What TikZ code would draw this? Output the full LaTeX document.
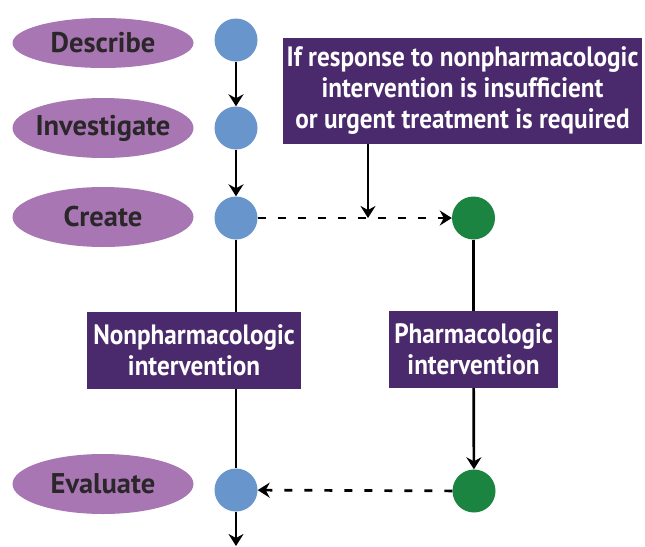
\documentclass[tikz,border=0pt]{standalone}
\usepackage{fontspec}
\setmainfont{PT Sans}
\newfontfamily\stagefont{PT Sans Bold}
\newfontfamily\condbold{PT Sans Bold}[FakeStretch=0.9]
\usetikzlibrary{shapes.geometric,arrows.meta}
\definecolor{stepfill}{HTML}{A877B3}
\definecolor{dotblue}{HTML}{6895CC}
\definecolor{dotgreen}{HTML}{1B8441}
\definecolor{boxpurple}{HTML}{4A2A6C}
\definecolor{inktext}{HTML}{2A2629}
\tikzset{
  stage/.style={ellipse, fill=stepfill, minimum width=181pt, minimum height=60pt,
    inner xsep=-20pt, inner ysep=0pt, text=inktext,
    font=\stagefont\fontsize{28.5}{30}\selectfont},
  bluedot/.style={circle, fill=dotblue, minimum size=43pt, inner sep=0pt},
  greendot/.style={circle, fill=dotgreen, minimum size=43pt, inner sep=0pt},
  infobox/.style={rectangle, fill=boxpurple, text=white, align=center, inner sep=0pt,
    font=\condbold\fontsize{28}{31}\selectfont},
  flow/.style={line width=2.7pt, -{Stealth[length=12pt,width=15pt,inset=4pt]}},
  plainflow/.style={line width=2.7pt},
  dashflow/.style={line width=2.7pt, dash pattern=on 8pt off 12pt,
    -{Stealth[length=12pt,width=15pt,inset=4pt]}}
}
\begin{document}
\begin{tikzpicture}[x=1pt,y=-1pt]
\useasboundingbox (0,0) rectangle (645,546);

% stage labels
\node[stage, minimum height=50pt] (describe) at (103,43) {Describe};
\node[stage] (investigate) at (103,128) {Investigate};
\node[stage] (create) at (103,217) {Create};
\node[stage] (evaluate) at (103,484) {Evaluate};

% step dots
\node[bluedot] (d1) at (236,40) {};
\node[bluedot] (i1) at (236,128) {};
\node[bluedot] (c1) at (236,218) {};
\node[bluedot] (e1) at (236,490) {};
\node[greendot] (g1) at (473.5,218) {};
\node[greendot] (g2) at (474,491) {};

% boxes
\node[infobox, minimum width=359pt, minimum height=106pt] (cond) at (462.5,91)
  {If response to nonpharmacologic\\intervention is insufficient\\ or urgent treatment is required};
\node[infobox, minimum width=214pt, minimum height=77pt] (nonph) at (194,350.5)
  {Nonpharmacologic\\intervention};
\node[infobox, minimum width=169pt, minimum height=77pt] (pharm) at (473.5,349.5)
  {Pharmacologic\\intervention};

\coordinate (join) at (368,218);
\coordinate (exit) at (236,546);

% main path
\draw[flow] (d1) -- (i1);
\draw[flow] (i1) -- (c1);
\draw[plainflow] (c1) -- (c1 |- nonph.north);
\draw[plainflow] (c1 |- nonph.south) -- (e1);
\draw[flow] (e1) -- (exit);

% pharmacologic branch
\draw[dashflow] (c1) -- (g1);
\draw[flow] (cond.south -| join) -- (join);
\draw[plainflow] (g1) -- (pharm);
\draw[flow] (pharm) -- (g2);
\draw[dashflow] (g2) -- (e1);
\end{tikzpicture}
\end{document}
